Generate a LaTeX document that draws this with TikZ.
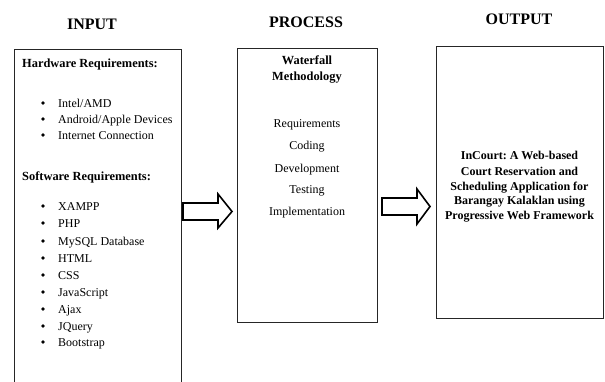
\documentclass[tikz,border=0pt]{standalone}
\usepackage{fontspec}
\setmainfont{Liberation Serif}
\frenchspacing
\begin{document}
\begin{tikzpicture}[x=1pt,y=-1pt,
  boxline/.style={draw=black!85,line width=1.1pt},
  title/.style={font=\fontsize{16}{18}\selectfont\bfseries,anchor=base,inner sep=0pt},
  head/.style={font=\fontsize{12.4}{14}\selectfont\bfseries,anchor=base west,inner sep=0pt},
  item/.style={font=\fontsize{12}{14}\selectfont,anchor=base west,inner sep=0pt},
  citem/.style={font=\fontsize{12}{14}\selectfont,anchor=base,inner sep=0pt},
  chead/.style={font=\fontsize{12.4}{14}\selectfont\bfseries,anchor=base,inner sep=0pt},
  bul/.style={circle,fill=black,inner sep=0pt,minimum size=3.6pt},
  bigarrow/.style={draw=black,line width=1.6pt,fill=white,line join=miter}]
\useasboundingbox (0,0) rectangle (605,381);
\fill[white] (0,0) rectangle (605,381);
% boxes
\begin{scope}
\clip (0,0) rectangle (605,381);
\node[boxline,minimum width=167pt,minimum height=340pt,anchor=north west,inner sep=0pt] (inbox) at (14,49) {};
\end{scope}
\node[boxline,minimum width=140pt,minimum height=274pt,anchor=north west,inner sep=0pt] (procbox) at (237,48) {};
\node[boxline,minimum width=167pt,minimum height=272pt,anchor=north west,inner sep=0pt] (outbox) at (436,46) {};
% titles
\node[title] (tin) at (92,29) {INPUT};
\node[title] (tproc) at (306,27) {PROCESS};
\node[title] (tout) at (519,24) {OUTPUT};
% input text
\node[head] (hw) at (22,67) {Hardware Requirements:};
\foreach \t/\yy [count=\i] in {{Intel/AMD}/107,{Android/Apple Devices}/123,{Internet Connection}/139}{
  \node[bul] (hb\i) at (43,\yy-4) {};
  \node[item] (hi\i) at (58,\yy) {\t};
}
\node[head] (sw) at (22,180) {Software Requirements:};
\foreach \t/\yy [count=\i] in {XAMPP/210,PHP/227,MySQL Database/245,HTML/262,CSS/279,JavaScript/296,Ajax/313,JQuery/330,Bootstrap/346}{
  \node[bul] (sb\i) at (43,\yy-4) {};
  \node[item] (si\i) at (58,\yy) {\t};
}
% process text
\node[chead] (wf1) at (307,64) {Waterfall};
\node[chead] (wf2) at (307,80) {Methodology};
\foreach \t/\yy [count=\i] in {Requirements/127,Coding/149,Development/172,Testing/193,Implementation/215}{
  \node[citem] (p\i) at (307,\yy) {\t};
}
% output text
\foreach \t/\yy [count=\i] in {InCourt: A Web-based/159,Court Reservation and/175,Scheduling Application for/190,Barangay Kalaklan using/204,Progressive Web Framework/219}{
  \node[chead,font=\fontsize{12}{14}\selectfont\bfseries] (o\i) at (519.5,\yy) {\t};
}
% arrows
\draw[bigarrow] (183,203) -- (218,203) -- (218,194) -- (232,211.5) -- (218,228) -- (218,220) -- (183,220) -- cycle;
\draw[bigarrow] (382,198) -- (417,198) -- (417,189) -- (430,206.5) -- (417,224) -- (417,215) -- (382,215) -- cycle;
\end{tikzpicture}
\end{document}
